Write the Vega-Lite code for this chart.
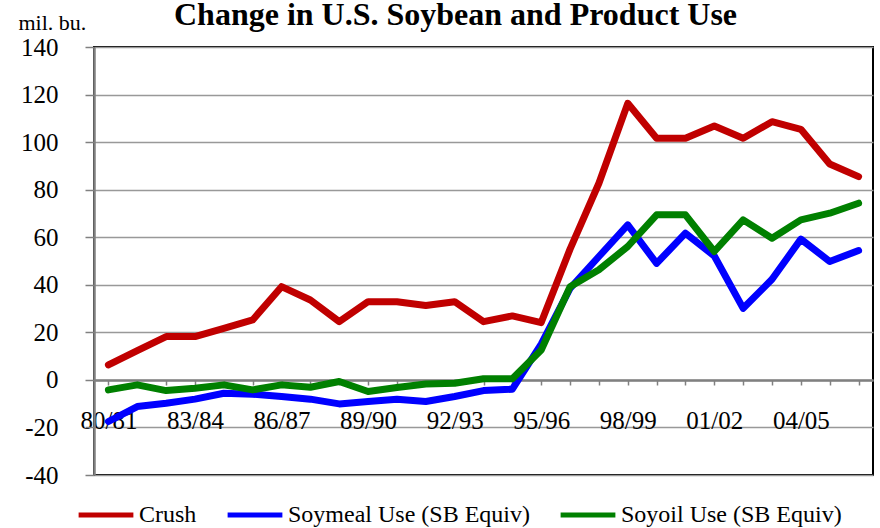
{
  "$schema": "https://vega.github.io/schema/vega-lite/v6.json",
  "autosize": "none",
  "width": 779,
  "height": 428,
  "padding": {"left": 94, "top": 47, "right": 7, "bottom": 53},
  "background": "white",
  "title": {
    "text": "Change in U.S. Soybean and Product Use",
    "font": "'Liberation Serif', 'Times New Roman', serif",
    "fontSize": 32,
    "fontWeight": "bold",
    "color": "black",
    "anchor": "middle",
    "baseline": "alphabetic",
    "dx": -28,
    "offset": 0,
    "dy": 46
  },
  "config": {
    "view": {"stroke": "black", "strokeWidth": 2},
    "font": "'Liberation Serif', 'Times New Roman', serif"
  },
  "data": {
    "values": [
      {"year": "80/81", "series": "Crush", "value": 6.3},
      {"year": "81/82", "series": "Crush", "value": 12.3},
      {"year": "82/83", "series": "Crush", "value": 18.2},
      {"year": "83/84", "series": "Crush", "value": 18.2},
      {"year": "84/85", "series": "Crush", "value": 21.7},
      {"year": "85/86", "series": "Crush", "value": 25.2},
      {"year": "86/87", "series": "Crush", "value": 39.2},
      {"year": "87/88", "series": "Crush", "value": 33.6},
      {"year": "88/89", "series": "Crush", "value": 24.5},
      {"year": "89/90", "series": "Crush", "value": 32.9},
      {"year": "90/91", "series": "Crush", "value": 32.9},
      {"year": "91/92", "series": "Crush", "value": 31.3},
      {"year": "92/93", "series": "Crush", "value": 32.9},
      {"year": "93/94", "series": "Crush", "value": 24.5},
      {"year": "94/95", "series": "Crush", "value": 26.9},
      {"year": "95/96", "series": "Crush", "value": 24.1},
      {"year": "96/97", "series": "Crush", "value": 55.0},
      {"year": "97/98", "series": "Crush", "value": 82.7},
      {"year": "98/99", "series": "Crush", "value": 116.3},
      {"year": "99/00", "series": "Crush", "value": 101.6},
      {"year": "00/01", "series": "Crush", "value": 101.6},
      {"year": "01/02", "series": "Crush", "value": 106.8},
      {"year": "02/03", "series": "Crush", "value": 101.6},
      {"year": "03/04", "series": "Crush", "value": 108.6},
      {"year": "04/05", "series": "Crush", "value": 105.4},
      {"year": "05/06", "series": "Crush", "value": 90.8},
      {"year": "06/07", "series": "Crush", "value": 85.5},

      {"year": "80/81", "series": "Soymeal Use (SB Equiv)", "value": -17.5},
      {"year": "81/82", "series": "Soymeal Use (SB Equiv)", "value": -11.2},
      {"year": "82/83", "series": "Soymeal Use (SB Equiv)", "value": -9.8},
      {"year": "83/84", "series": "Soymeal Use (SB Equiv)", "value": -8.1},
      {"year": "84/85", "series": "Soymeal Use (SB Equiv)", "value": -5.6},
      {"year": "85/86", "series": "Soymeal Use (SB Equiv)", "value": -6.0},
      {"year": "86/87", "series": "Soymeal Use (SB Equiv)", "value": -7.0},
      {"year": "87/88", "series": "Soymeal Use (SB Equiv)", "value": -8.1},
      {"year": "88/89", "series": "Soymeal Use (SB Equiv)", "value": -10.1},
      {"year": "89/90", "series": "Soymeal Use (SB Equiv)", "value": -9.1},
      {"year": "90/91", "series": "Soymeal Use (SB Equiv)", "value": -8.1},
      {"year": "91/92", "series": "Soymeal Use (SB Equiv)", "value": -9.1},
      {"year": "92/93", "series": "Soymeal Use (SB Equiv)", "value": -7.0},
      {"year": "93/94", "series": "Soymeal Use (SB Equiv)", "value": -4.5},
      {"year": "94/95", "series": "Soymeal Use (SB Equiv)", "value": -3.9},
      {"year": "95/96", "series": "Soymeal Use (SB Equiv)", "value": 15.0},
      {"year": "96/97", "series": "Soymeal Use (SB Equiv)", "value": 38.5},
      {"year": "97/98", "series": "Soymeal Use (SB Equiv)", "value": 51.9},
      {"year": "98/99", "series": "Soymeal Use (SB Equiv)", "value": 65.2},
      {"year": "99/00", "series": "Soymeal Use (SB Equiv)", "value": 49.0},
      {"year": "00/01", "series": "Soymeal Use (SB Equiv)", "value": 61.7},
      {"year": "01/02", "series": "Soymeal Use (SB Equiv)", "value": 52.1},
      {"year": "02/03", "series": "Soymeal Use (SB Equiv)", "value": 30.1},
      {"year": "03/04", "series": "Soymeal Use (SB Equiv)", "value": 42.3},
      {"year": "04/05", "series": "Soymeal Use (SB Equiv)", "value": 59.2},
      {"year": "05/06", "series": "Soymeal Use (SB Equiv)", "value": 49.8},
      {"year": "06/07", "series": "Soymeal Use (SB Equiv)", "value": 54.4},

      {"year": "80/81", "series": "Soyoil Use (SB Equiv)", "value": -4.2},
      {"year": "81/82", "series": "Soyoil Use (SB Equiv)", "value": -2.1},
      {"year": "82/83", "series": "Soyoil Use (SB Equiv)", "value": -4.5},
      {"year": "83/84", "series": "Soyoil Use (SB Equiv)", "value": -3.5},
      {"year": "84/85", "series": "Soyoil Use (SB Equiv)", "value": -2.1},
      {"year": "85/86", "series": "Soyoil Use (SB Equiv)", "value": -4.2},
      {"year": "86/87", "series": "Soyoil Use (SB Equiv)", "value": -2.1},
      {"year": "87/88", "series": "Soyoil Use (SB Equiv)", "value": -3.1},
      {"year": "88/89", "series": "Soyoil Use (SB Equiv)", "value": -0.7},
      {"year": "89/90", "series": "Soyoil Use (SB Equiv)", "value": -4.9},
      {"year": "90/91", "series": "Soyoil Use (SB Equiv)", "value": -3.2},
      {"year": "91/92", "series": "Soyoil Use (SB Equiv)", "value": -1.7},
      {"year": "92/93", "series": "Soyoil Use (SB Equiv)", "value": -1.4},
      {"year": "93/94", "series": "Soyoil Use (SB Equiv)", "value": 0.5},
      {"year": "94/95", "series": "Soyoil Use (SB Equiv)", "value": 0.5},
      {"year": "95/96", "series": "Soyoil Use (SB Equiv)", "value": 12.6},
      {"year": "96/97", "series": "Soyoil Use (SB Equiv)", "value": 39.2},
      {"year": "97/98", "series": "Soyoil Use (SB Equiv)", "value": 46.3},
      {"year": "98/99", "series": "Soyoil Use (SB Equiv)", "value": 56.1},
      {"year": "99/00", "series": "Soyoil Use (SB Equiv)", "value": 69.4},
      {"year": "00/01", "series": "Soyoil Use (SB Equiv)", "value": 69.4},
      {"year": "01/02", "series": "Soyoil Use (SB Equiv)", "value": 54.0},
      {"year": "02/03", "series": "Soyoil Use (SB Equiv)", "value": 67.3},
      {"year": "03/04", "series": "Soyoil Use (SB Equiv)", "value": 59.6},
      {"year": "04/05", "series": "Soyoil Use (SB Equiv)", "value": 67.3},
      {"year": "05/06", "series": "Soyoil Use (SB Equiv)", "value": 70.1},
      {"year": "06/07", "series": "Soyoil Use (SB Equiv)", "value": 74.3}
    ]
  },
  "mark": {"type": "line", "strokeWidth": 7, "strokeCap": "round", "strokeJoin": "round"},
  "encoding": {
    "x": {
      "field": "year",
      "type": "ordinal",
      "sort": null,
      "scale": {"type": "point", "padding": 0.5},
      "axis": {
        "title": null,
        "offset": -95,
        "domainColor": "#808080",
        "domainWidth": 2.5,
        "tickColor": "#808080",
        "tickWidth": 1.5,
        "tickSize": 5,
        "labelFont": "'Liberation Serif', 'Times New Roman', serif",
        "labelFontSize": 25,
        "labelColor": "black",
        "labelPadding": 23,
        "labelAngle": 0,
        "labelOverlap": false,
        "labelBaseline": "top",
        "labelExpr": "indexof(['80/81','83/84','86/87','89/90','92/93','95/96','98/99','01/02','04/05'], datum.value) >= 0 ? datum.value : ''"
      }
    },
    "y": {
      "field": "value",
      "type": "quantitative",
      "scale": {"domain": [-40, 140], "nice": false, "zero": false},
      "axis": {
        "values": [-40, -20, 0, 20, 40, 60, 80, 100, 120, 140],
        "labelExpr": "'' + datum.value",
        "title": "mil. bu.",
        "titleAngle": 0,
        "titleAlign": "left",
        "titleBaseline": "alphabetic",
        "titleX": -76,
        "titleY": -18,
        "titleFont": "'Liberation Serif', 'Times New Roman', serif",
        "titleFontSize": 22,
        "titleFontWeight": "normal",
        "titleColor": "black",
        "domainColor": "#808080",
        "domainWidth": 2.5,
        "tickColor": "#808080",
        "tickWidth": 1.5,
        "tickSize": 9,
        "labelFont": "'Liberation Serif', 'Times New Roman', serif",
        "labelFontSize": 25,
        "labelColor": "black",
        "labelPadding": 27,
        "gridColor": "#999999",
        "gridWidth": 1.5
      }
    },
    "color": {
      "field": "series",
      "type": "nominal",
      "scale": {
        "domain": ["Crush", "Soymeal Use (SB Equiv)", "Soyoil Use (SB Equiv)"],
        "range": ["#C00000", "#0000FF", "#008000"]
      },
      "legend": {
        "title": null,
        "orient": "none",
        "direction": "horizontal",
        "legendX": -18,
        "legendY": 438,
        "symbolType": "stroke",
        "symbolSize": 3000,
        "symbolStrokeWidth": 5,
        "labelFont": "'Liberation Serif', 'Times New Roman', serif",
        "labelFontSize": 24,
        "labelColor": "black",
        "labelOffset": 3,
        "columnPadding": 20,
        "labelLimit": 400
      }
    }
  }
}
